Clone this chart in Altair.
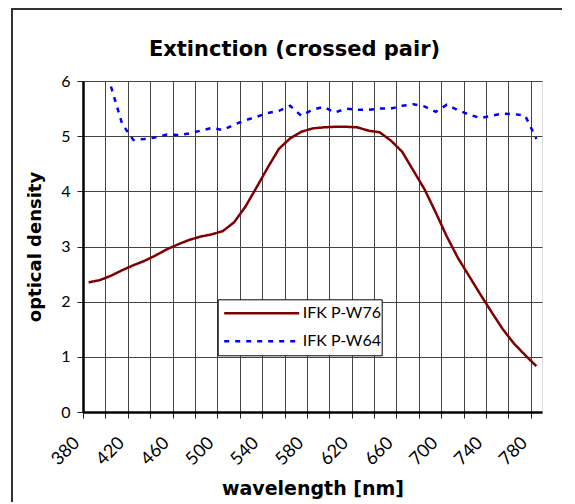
import altair as alt
import pandas as pd

wavelength = list(range(380, 790, 10))
series_names = ["IFK P-W76", "IFK P-W64"]
w76 = [2.35, 2.39, 2.47, 2.57, 2.66, 2.74, 2.84, 2.95, 3.04, 3.12,
       3.18, 3.22, 3.28, 3.44, 3.72, 4.07, 4.43, 4.77, 4.96, 5.08,
       5.14, 5.16, 5.17, 5.17, 5.16, 5.10, 5.07, 4.92, 4.72, 4.38,
       4.04, 3.62, 3.18, 2.79, 2.46, 2.13, 1.81, 1.50, 1.24, 1.03, 0.83]
w64 = [None, None, 5.9, 5.22, 4.93, 4.95, 4.98, 5.03, 5.02, 5.05,
       5.10, 5.15, 5.11, 5.21, 5.29, 5.35, 5.42, 5.46, 5.55, 5.37,
       5.48, 5.53, 5.43, 5.50, 5.48, 5.48, 5.50, 5.50, 5.55, 5.58,
       5.54, 5.44, 5.57, 5.47, 5.39, 5.33, 5.37, 5.41, 5.40, 5.37, 4.95]
grid_values = list(range(375, 780, 20))
label_values = list(range(380, 790, 40))
y_values = [0, 1, 2, 3, 4, 5, 6]

rows = []
for name, vals in zip(series_names, [w76, w64]):
    for wl, v in zip(wavelength, vals):
        if v is not None:
            rows.append({"wavelength": wl, "od": v, "series": name})
df = pd.DataFrame(rows)

FONT = "Lato"
BOLD = "DejaVu Sans"
xscale = alt.Scale(domain=[375, 785], nice=False, zero=False)
yscale = alt.Scale(domain=[0, 6], nice=False)
yaxis = alt.Axis(values=y_values, grid=True, gridColor="#444", gridWidth=1,
                 tickSize=6, tickColor="#222", domainColor="black", domainWidth=2.5,
                 labelFont=FONT, labelFontSize=16, labelColor="black", labelPadding=7,
                 title="optical density", titleFont=BOLD, titleFontSize=18,
                 titleFontWeight="bold", titleColor="black", titlePadding=16)

grid_axis = alt.Axis(values=grid_values, grid=True, gridColor="#444", gridWidth=1,
                     ticks=True, tickSize=6, tickColor="#222", labels=False,
                     domainColor="black", domainWidth=2.5, title=None, orient="bottom")
label_axis = alt.Axis(values=label_values, grid=False, ticks=False, tickSize=0,
                      domain=False, labelAngle=-45, labelAlign="right",
                      labelBaseline="middle", labelPadding=28, labelOffset=-12,
                      labelFont=FONT, labelFontSize=18, labelColor="black",
                      title="wavelength [nm]", titleFont=BOLD, titleFontSize=19,
                      titleFontWeight="bold", titleColor="black", titlePadding=11,
                      orient="bottom")

lines = alt.Chart(df).mark_line(strokeWidth=2.5).encode(
    x=alt.X("wavelength:Q", scale=xscale, axis=grid_axis),
    y=alt.Y("od:Q", scale=yscale, axis=yaxis),
    color=alt.Color("series:N",
                    scale=alt.Scale(domain=series_names, range=["#800000", "#0000ff"]),
                    legend=alt.Legend(orient="none", legendX=134.7, legendY=218.3,
                                      title=None, symbolType="stroke", symbolSize=5625,
                                      symbolStrokeWidth=2.5, symbolOffset=5,
                                      clipHeight=28, rowPadding=0, padding=0,
                                      labelOffset=2, labelFont=FONT, labelFontSize=16,
                                      labelColor="black", fillColor="white",
                                      strokeColor="black")),
    strokeDash=alt.StrokeDash("series:N",
                              scale=alt.Scale(domain=series_names, range=[[1, 0], [5, 6]]),
                              legend=None),
    detail="series:N",
)

labels_layer = alt.Chart(df).mark_point(opacity=0).encode(
    x=alt.X("wavelength:Q", scale=xscale, axis=label_axis),
    y=alt.Y("od:Q", scale=yscale, axis=yaxis),
)

frame_left = alt.Chart(df).mark_rule(color="#333", strokeWidth=1.5).encode(
    x=alt.value(-71), y=alt.value(-72.2), y2=alt.value(600))
frame_top = alt.Chart(df).mark_rule(color="#333", strokeWidth=1.5).encode(
    x=alt.value(-71), x2=alt.value(700), y=alt.value(-72.2))

chart = alt.layer(lines, labels_layer, frame_left, frame_top).resolve_axis(
    x="independent").resolve_scale(x="shared").properties(
    width=459, height=331,
    padding={"left": 75, "top": 73, "right": 20, "bottom": 90},
    autosize=alt.AutoSizeParams(type="none"),
    title=alt.TitleParams("Extinction (crossed pair)", font=BOLD, fontSize=21,
                          fontWeight="bold", color="black", anchor="middle",
                          frame="group", dx=-18, offset=-52),
).configure_view(stroke="black", strokeWidth=2).configure(background="white")

chart.save("out.html", embed_options={"renderer": "svg", "actions": False})
